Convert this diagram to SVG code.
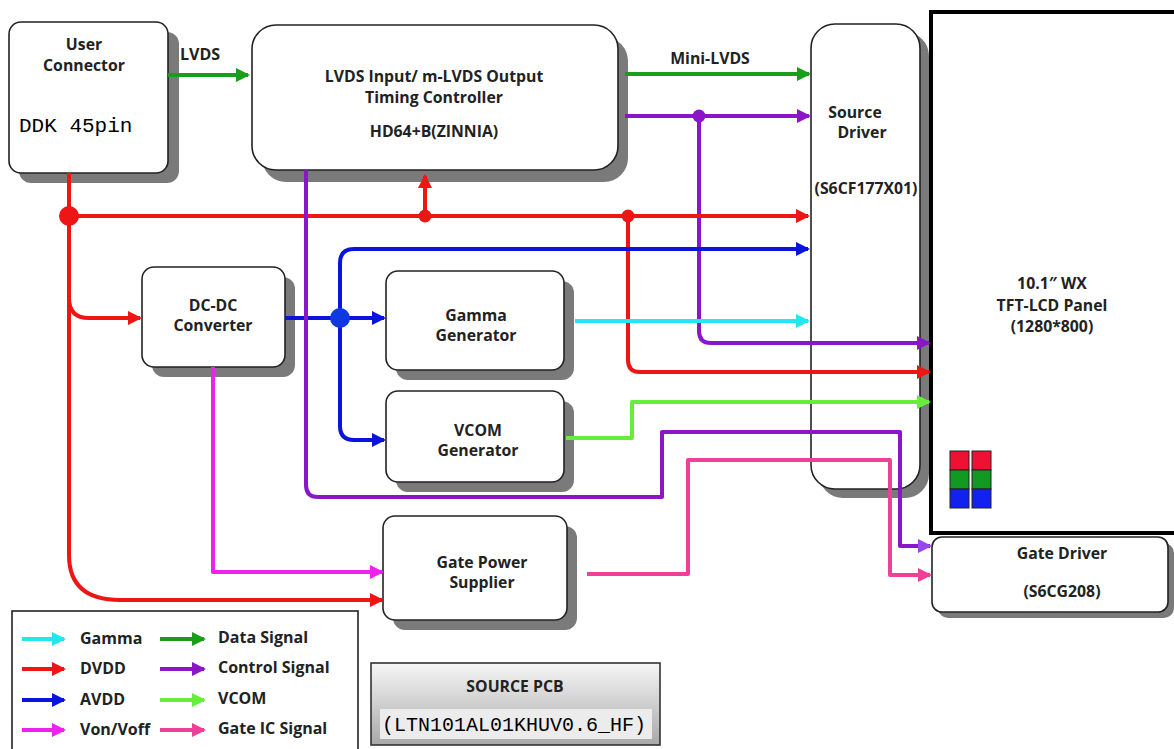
<svg xmlns="http://www.w3.org/2000/svg" width="1174" height="749" viewBox="0 0 1174 749">
<style>
.box{fill:#fff;stroke:#222;stroke-width:1.6}
.sh{fill:#7a7a7a}
.t{font-family:"Open Sans","Noto Sans","Liberation Sans",sans-serif;font-weight:bold;font-size:15.8px;fill:#222;text-anchor:middle}
.lg{font-family:"Open Sans","Noto Sans","Liberation Sans",sans-serif;font-weight:bold;font-size:16px;fill:#222}
.mono{font-family:"Liberation Mono","DejaVu Sans Mono",monospace;fill:#000}
.w{fill:none;stroke-width:4;stroke-linejoin:round}
</style>
<defs>
<marker id="aG" markerUnits="userSpaceOnUse" markerWidth="14" markerHeight="14" refX="12" refY="7" orient="auto"><path d="M0,0 L14,7 L0,14 z" fill="#1a9e1a"/></marker>
<marker id="aP" markerUnits="userSpaceOnUse" markerWidth="14" markerHeight="14" refX="12" refY="7" orient="auto"><path d="M0,0 L14,7 L0,14 z" fill="#8a16c8"/></marker>
<marker id="aP2" markerUnits="userSpaceOnUse" markerWidth="14" markerHeight="14" refX="12" refY="7" orient="auto"><path d="M0,0 L14,7 L0,14 z" fill="#9b45ee"/></marker>
<marker id="aR" markerUnits="userSpaceOnUse" markerWidth="14" markerHeight="14" refX="12" refY="7" orient="auto"><path d="M0,0 L14,7 L0,14 z" fill="#ee1515"/></marker>
<marker id="aB" markerUnits="userSpaceOnUse" markerWidth="14" markerHeight="14" refX="12" refY="7" orient="auto"><path d="M0,0 L14,7 L0,14 z" fill="#0a14dd"/></marker>
<marker id="aC" markerUnits="userSpaceOnUse" markerWidth="14" markerHeight="14" refX="12" refY="7" orient="auto"><path d="M0,0 L14,7 L0,14 z" fill="#22e6f0"/></marker>
<marker id="aL" markerUnits="userSpaceOnUse" markerWidth="14" markerHeight="14" refX="12" refY="7" orient="auto"><path d="M0,0 L14,7 L0,14 z" fill="#66ee3a"/></marker>
<marker id="aM" markerUnits="userSpaceOnUse" markerWidth="14" markerHeight="14" refX="12" refY="7" orient="auto"><path d="M0,0 L14,7 L0,14 z" fill="#ee22ee"/></marker>
<marker id="aK" markerUnits="userSpaceOnUse" markerWidth="14" markerHeight="14" refX="12" refY="7" orient="auto"><path d="M0,0 L14,7 L0,14 z" fill="#ee4096"/></marker>
<linearGradient id="pcb" x1="0" y1="0" x2="0" y2="1"><stop offset="0" stop-color="#f6f6f6"/><stop offset="1" stop-color="#a8a8a8"/></linearGradient>
</defs>

<g id="user-connector">
<rect class="sh" x="19" y="32" width="160" height="151" rx="12"/>
<rect class="box" x="9" y="22" width="159" height="151" rx="12"/>
<text class="t" x="84" y="50">User</text>
<text class="t" x="84" y="71">Connector</text>
<text class="mono" x="19" y="132" font-size="21">DDK 45pin</text>
</g>

<g id="timing-controller">
<rect class="sh" x="262" y="37" width="366" height="145" rx="24"/>
<rect class="box" x="252" y="25" width="366" height="145" rx="24"/>
<text class="t" x="434" y="82">LVDS Input/ m-LVDS Output</text>
<text class="t" x="434" y="103">Timing Controller</text>
<text class="t" x="434" y="137">HD64+B(ZINNIA)</text>
</g>

<g id="source-driver">
<rect class="sh" x="819" y="32" width="110" height="466" rx="24"/>
<rect class="box" x="811" y="24" width="109" height="465" rx="24"/>
<text class="t" x="855" y="118">Source</text>
<text class="t" x="862" y="138">Driver</text>
<text class="t" x="866" y="194">(S6CF177X01)</text>
</g>

<g id="panel">
<rect x="931" y="12" width="250" height="521" fill="#fff" stroke="#000" stroke-width="4"/>
<text class="t" x="1052" y="289">10.1″ WX</text>
<text class="t" x="1052" y="311">TFT-LCD Panel</text>
<text class="t" x="1052" y="332">(1280*800)</text>
<g stroke="#222" stroke-width="1">
<rect x="950" y="451" width="19" height="19" fill="#ee1133"/>
<rect x="972" y="451" width="19" height="19" fill="#ee1133"/>
<rect x="950" y="470" width="19" height="19" fill="#119922"/>
<rect x="972" y="470" width="19" height="19" fill="#119922"/>
<rect x="950" y="489" width="19" height="19" fill="#1122ee"/>
<rect x="972" y="489" width="19" height="19" fill="#1122ee"/>
</g>
</g>

<g id="gate-driver">
<rect class="sh" x="938" y="543" width="236" height="75" rx="10"/>
<rect class="box" x="932" y="537" width="236" height="75" rx="10"/>
<text class="t" x="1062" y="559">Gate Driver</text>
<text class="t" x="1062" y="597">(S6CG208)</text>
</g>

<g id="dcdc-converter">
<rect class="sh" x="152" y="277" width="143" height="100" rx="12"/>
<rect class="box" x="142" y="267" width="143" height="100" rx="12"/>
<text class="t" x="213" y="311">DC-DC</text>
<text class="t" x="213" y="331">Converter</text>
</g>

<g id="gamma-generator">
<rect class="sh" x="396" y="281" width="178" height="99" rx="12"/>
<rect class="box" x="386" y="271" width="178" height="99" rx="12"/>
<text class="t" x="476" y="321">Gamma</text>
<text class="t" x="476" y="341">Generator</text>
</g>

<g id="vcom-generator">
<rect class="sh" x="396" y="401" width="178" height="91" rx="12"/>
<rect class="box" x="386" y="391" width="178" height="91" rx="12"/>
<text class="t" x="478" y="436">VCOM</text>
<text class="t" x="478" y="456">Generator</text>
</g>

<g id="gate-power-supplier">
<rect class="sh" x="393" y="526" width="184" height="104" rx="12"/>
<rect class="box" x="383" y="516" width="184" height="104" rx="12"/>
<text class="t" x="482" y="568">Gate Power</text>
<text class="t" x="482" y="588">Supplier</text>
</g>

<g id="connectors">
<path class="w" stroke="#1a9e1a" d="M168,75 H248" marker-end="url(#aG)"/>
<path class="w" stroke="#1a9e1a" d="M625,74 H809" marker-end="url(#aG)"/>
<path class="w" stroke="#8a16c8" d="M625,116 H809" marker-end="url(#aP)"/>
<path class="w" stroke="#8a16c8" d="M699,116 V331 Q699,343 711,343 H929" marker-end="url(#aP)"/>
<circle cx="699" cy="116" r="6.5" fill="#8a16c8"/>
<path class="w" stroke="#ee1515" d="M69,173 V555 Q69,600 120,600 H382" marker-end="url(#aR)"/>
<path class="w" stroke="#ee1515" d="M69,298 Q69,318 89,318 H140" marker-end="url(#aR)"/>
<path class="w" stroke="#ee1515" d="M69,216 H808" marker-end="url(#aR)"/>
<path class="w" stroke="#ee1515" d="M425,216 V176" marker-end="url(#aR)"/>
<path class="w" stroke="#ee1515" d="M628,216 V360 Q628,372 640,372 H929" marker-end="url(#aR)"/>
<circle cx="69" cy="216" r="10" fill="#ee1515"/>
<circle cx="425" cy="216" r="6.5" fill="#ee1515"/>
<circle cx="628" cy="216" r="6.5" fill="#ee1515"/>
<path class="w" stroke="#0a14dd" d="M285,318 H384" marker-end="url(#aB)"/>
<path class="w" stroke="#0a14dd" d="M340,318 V263 Q340,249 354,249 H808" marker-end="url(#aB)"/>
<path class="w" stroke="#0a14dd" d="M340,318 V426 Q340,440 354,440 H384" marker-end="url(#aB)"/>
<circle cx="340" cy="318" r="10" fill="#1038e0"/>
<path class="w" stroke="#22e6f0" d="M575,321 H808" marker-end="url(#aC)"/>
<path class="w" stroke="#66ee3a" d="M566,438 H632 V402 H929" marker-end="url(#aL)"/>
<path class="w" stroke="#8a16c8" d="M306,170 V485 Q306,497 318,497 H662 V432 H900 V546 H930" marker-end="url(#aP2)"/>
<path class="w" stroke="#ee22ee" d="M213,367 V572 H382" marker-end="url(#aM)"/>
<path class="w" stroke="#ee4096" d="M587,574 H688 V460 H890 V575 H930" marker-end="url(#aK)"/>
<text class="lg" x="180" y="60">LVDS</text>
<text class="t" x="710" y="64">Mini-LVDS</text>
</g>

<g id="legend">
<rect x="12" y="611" width="346" height="145" fill="#fff" stroke="#222" stroke-width="1.6"/>
<path class="w" stroke="#22e6f0" d="M22,639 H64" marker-end="url(#aC)"/>
<path class="w" stroke="#ee1515" d="M22,669 H64" marker-end="url(#aR)"/>
<path class="w" stroke="#0a14dd" d="M22,700 H64" marker-end="url(#aB)"/>
<path class="w" stroke="#ee22ee" d="M22,730 H64" marker-end="url(#aM)"/>
<path class="w" stroke="#1a9e1a" d="M160,639 H204" marker-end="url(#aG)"/>
<path class="w" stroke="#8a16c8" d="M160,669 H204" marker-end="url(#aP)"/>
<path class="w" stroke="#66ee3a" d="M160,700 H204" marker-end="url(#aL)"/>
<path class="w" stroke="#ee4096" d="M160,730 H204" marker-end="url(#aK)"/>
<text class="lg" x="80" y="644">Gamma</text>
<text class="lg" x="80" y="674">DVDD</text>
<text class="lg" x="80" y="705">AVDD</text>
<text class="lg" x="80" y="735">Von/Voff</text>
<text class="lg" x="218" y="643">Data Signal</text>
<text class="lg" x="218" y="673">Control Signal</text>
<text class="lg" x="218" y="704">VCOM</text>
<text class="lg" x="218" y="734">Gate IC Signal</text>
</g>

<g id="source-pcb">
<rect x="371" y="663" width="289" height="82" fill="url(#pcb)" stroke="#333" stroke-width="1.6"/>
<rect x="380" y="709" width="272" height="30" fill="#ececec"/>
<text class="t" x="515" y="692">SOURCE PCB</text>
<text class="mono" x="382" y="731" font-size="20">(LTN101AL01KHUV0.6_HF)</text>
</g>
</svg>
